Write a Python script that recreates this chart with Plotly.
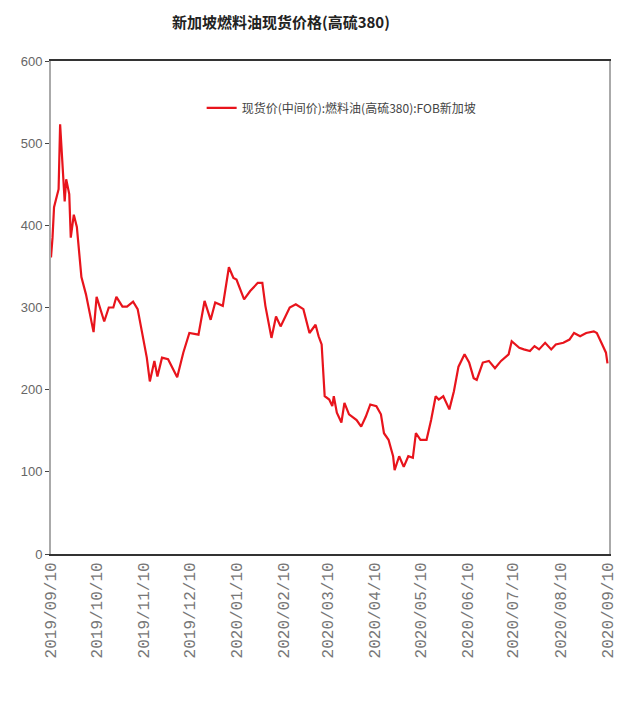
import plotly.graph_objects as go

dates = [
    "2019-09-10", "2019-09-11", "2019-09-12", "2019-09-15", "2019-09-16", "2019-09-18",
    "2019-09-19", "2019-09-20", "2019-09-22", "2019-09-23", "2019-09-25", "2019-09-27",
    "2019-09-30", "2019-10-03", "2019-10-08", "2019-10-10", "2019-10-15", "2019-10-18",
    "2019-10-21", "2019-10-23", "2019-10-27", "2019-10-30", "2019-11-03", "2019-11-06",
    "2019-11-10", "2019-11-12", "2019-11-14", "2019-11-17", "2019-11-19", "2019-11-22",
    "2019-11-26", "2019-12-02", "2019-12-06", "2019-12-10", "2019-12-16", "2019-12-20",
    "2019-12-24", "2019-12-27", "2020-01-01", "2020-01-05", "2020-01-08", "2020-01-10",
    "2020-01-15", "2020-01-19", "2020-01-24", "2020-01-27", "2020-01-29", "2020-02-02",
    "2020-02-05", "2020-02-08", "2020-02-14", "2020-02-18", "2020-02-23", "2020-02-27",
    "2020-03-02", "2020-03-04", "2020-03-06", "2020-03-08", "2020-03-11", "2020-03-13",
    "2020-03-14", "2020-03-16", "2020-03-19", "2020-03-21", "2020-03-24", "2020-03-29",
    "2020-04-01", "2020-04-04", "2020-04-07", "2020-04-11", "2020-04-14", "2020-04-16",
    "2020-04-19", "2020-04-22", "2020-04-23", "2020-04-26", "2020-04-29", "2020-05-02",
    "2020-05-05", "2020-05-07", "2020-05-10", "2020-05-14", "2020-05-17", "2020-05-20",
    "2020-05-22", "2020-05-25", "2020-05-29", "2020-06-01", "2020-06-04", "2020-06-08",
    "2020-06-11", "2020-06-14", "2020-06-16", "2020-06-20", "2020-06-24", "2020-06-28",
    "2020-07-02", "2020-07-07", "2020-07-09", "2020-07-14", "2020-07-17", "2020-07-21",
    "2020-07-24", "2020-07-27", "2020-07-31", "2020-08-04", "2020-08-07", "2020-08-12",
    "2020-08-16", "2020-08-19", "2020-08-23", "2020-08-27", "2020-09-01", "2020-09-03",
    "2020-09-06", "2020-09-09", "2020-09-10",
]
prices = [
    361, 385, 422, 444, 523, 458,
    429, 456, 438, 385, 413, 398,
    337, 316, 270, 313, 283, 300,
    300, 313, 301, 301, 307, 298,
    257, 239, 210, 235, 216, 239,
    237, 215, 245, 269, 267, 308,
    285, 306, 302, 349, 336, 334,
    310, 320, 330, 330, 302, 263,
    289, 277, 300, 304, 298, 269,
    279, 265, 255, 192, 188, 180,
    192, 172, 160, 184, 170, 163,
    155, 167, 182, 180, 170, 147,
    139, 119, 102, 119, 106, 119,
    117, 147, 139, 139, 163, 192,
    188, 192, 176, 198, 228, 243,
    233, 214, 212, 233, 235, 226,
    235, 243, 259, 251, 249, 247,
    253, 249, 257, 249, 255, 257,
    261, 269, 265, 269, 271, 269,
    257, 245, 232,
]

tick_vals = [
    "2019-09-10", "2019-10-10", "2019-11-10", "2019-12-10", "2020-01-10", "2020-02-10",
    "2020-03-10", "2020-04-10", "2020-05-10", "2020-06-10", "2020-07-10", "2020-08-10",
    "2020-09-10",
]
tick_text = [d.replace("-", "/") for d in tick_vals]

series_name = "现货价(中间价):燃料油(高硫380):FOB新加坡"
title_text = "新加坡燃料油现货价格(高硫380)"

fig = go.Figure()
fig.add_trace(go.Scatter(
    x=dates, y=prices, mode="lines", name=series_name,
    line=dict(color="#e8141c", width=2.2),
))

fig.update_layout(
    width=630, height=704,
    margin=dict(l=51, r=13, t=61, b=150),
    paper_bgcolor="white", plot_bgcolor="white",
    showlegend=True,
    legend=dict(
        x=0.27, y=0.905, xanchor="left", yanchor="middle",
        bgcolor="rgba(0,0,0,0)",
        font=dict(family="Noto Sans CJK SC", size=12, color="#444"),
        itemwidth=30,
    ),
    annotations=[dict(
        text="<b>" + title_text + "</b>", xref="paper", yref="paper",
        x=0.413, y=1.0, yshift=40, xanchor="center", yanchor="middle",
        showarrow=False,
        font=dict(family="Noto Sans CJK SC", size=15, color="#222"),
    )],
    font=dict(family="Noto Sans CJK SC"),
)

fig.update_xaxes(
    type="date",
    range=["2019-09-10", "2020-09-11"],
    tickvals=tick_vals, ticktext=tick_text,
    tickangle=-90,
    tickfont=dict(family="Liberation Mono", size=16, color="#777"),
    showline=True, linecolor="#333", linewidth=2, mirror=True,
    showgrid=False, zeroline=False, ticks="",
)
fig.update_yaxes(
    range=[0, 600], dtick=100,
    tickfont=dict(family="Liberation Sans Narrow, Liberation Sans", size=13, color="#666"),
    showline=True, linecolor="#aaa", linewidth=2, mirror=True,
    showgrid=False, zeroline=False,
    ticks="outside", ticklen=4, tickcolor="#444",
)

fig.write_html("out.html")
